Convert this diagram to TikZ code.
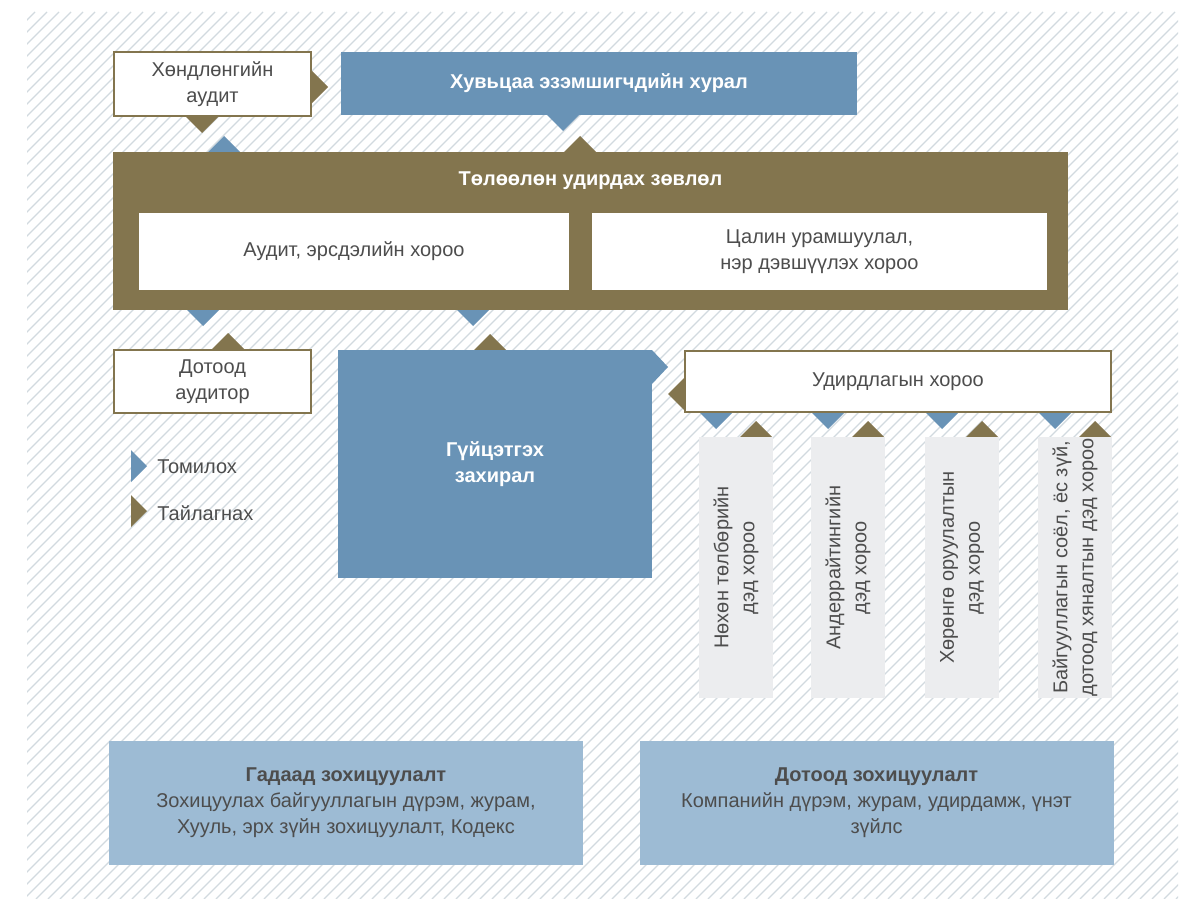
\documentclass[tikz,border=0pt]{standalone}
\usepackage{fontspec}
\setmainfont{Liberation Sans}
\usepackage{tikz}
\usepackage{xcolor}

\definecolor{bronze}{HTML}{83754E}
\definecolor{steel}{HTML}{6993B6}
\definecolor{paleblue}{HTML}{9DBBD4}
\definecolor{subgray}{HTML}{ECEDEF}
\definecolor{ink}{HTML}{4D4D4D}
\definecolor{hatch}{HTML}{D2DADF}

\begin{document}
\begin{tikzpicture}[x=0.5pt,y=-0.5pt,
	txt/.style={font=\fontsize{10}{13}\selectfont, text=ink, align=center, inner sep=0pt},
	framebox/.style={txt, draw=bronze, line width=1pt, fill=white},
	whitebox/.style={txt, fill=white},
	bluebox/.style={fill=steel, text=white, font=\bfseries\fontsize{10}{13}\selectfont, align=center, inner sep=0pt},
	subbox/.style={txt, fill=subgray, rotate=90, minimum width=130.5pt, minimum height=37pt},
	regbox/.style={txt, fill=paleblue, minimum width=237pt, minimum height=62pt}]

	\useasboundingbox (0,0) rectangle (1188,899);
	\fill[white] (0,0) rectangle (1188,899);

	% hatched paper
	\begin{scope}
		\clip (27,12) rectangle (1178,899);
		\foreach \i in {-75,...,99}
			\draw[hatch, line width=0.6pt] (\i*12,899) -- ++(887,-887);
	\end{scope}

	% appoint (blue) markers
	\fill[steel] (208,152) -- (240,152) -- (224,136) -- cycle;
	\fill[steel] (547,115) -- (579,115) -- (563,131) -- cycle;
	\fill[steel] (187,310) -- (219,310) -- (203,326) -- cycle;
	\fill[steel] (457,310) -- (489,310) -- (473,326) -- cycle;
	\fill[steel] (652,350) -- (668,367) -- (652,384) -- cycle;
	\foreach \cx in {716,828,942,1055}
		\fill[steel] (\cx-16,413) -- (\cx+16,413) -- (\cx,429) -- cycle;

	% report (bronze) markers
	\fill[bronze] (312,71) -- (328,87) -- (312,103) -- cycle;
	\fill[bronze] (186,117) -- (218,117) -- (202,133) -- cycle;
	\fill[bronze] (564,152) -- (596,152) -- (580,136) -- cycle;
	\fill[bronze] (212,349) -- (244,349) -- (228,333) -- cycle;
	\fill[bronze] (474,350) -- (506,350) -- (490,334) -- cycle;
	\fill[bronze] (684,378) -- (668,394) -- (684,410) -- cycle;
	\foreach \cx in {756,868,982,1095}
		\fill[bronze] (\cx-16,437) -- (\cx+16,437) -- (\cx,421) -- cycle;

	% top row
	\node[framebox, minimum width=98.5pt, minimum height=32pt] (extaudit) at (212.5,84) {Хөндлөнгийн\\аудит};
	\node[bluebox, minimum width=258pt, minimum height=31.5pt] (meeting) at (599,83.5) {Хувьцаа эзэмшигчдийн хурал};

	% board
	\node[fill=bronze, minimum width=477.5pt, minimum height=79pt, inner sep=0pt] (board) at (590.5,231) {};
	\node[txt, text=white, font=\bfseries\fontsize{10}{13}\selectfont] (boardtitle) at (590.5,181) {Төлөөлөн удирдах зөвлөл};
	\node[whitebox, minimum width=215pt, minimum height=38.5pt] (auditcom) at (354,251.5) {Аудит, эрсдэлийн хороо};
	\node[whitebox, minimum width=227.5pt, minimum height=38.5pt] (paycom) at (819.5,251.5) {Цалин урамшуулал,\\нэр дэвшүүлэх хороо};

	% middle row
	\node[framebox, minimum width=98.5pt, minimum height=31.5pt] (intaudit) at (212.5,381.5) {Дотоод\\аудитор};
	\node[bluebox, minimum width=157pt, minimum height=114pt] (ceo) at (495,464) {Гүйцэтгэх\\захирал};
	\node[framebox, minimum width=213pt, minimum height=30.5pt] (mgmt) at (898,381.5) {Удирдлагын хороо};

	% sub committees
	\node[subbox] (sub1) at (736,567.5) {Нөхөн төлбөрийн\\дэд хороо};
	\node[subbox] (sub2) at (848,567.5) {Андеррайтингийн\\дэд хороо};
	\node[subbox] (sub3) at (962,567.5) {Хөрөнгө оруулалтын\\дэд хороо};
	\node[subbox] (sub4) at (1075,567.5) {Байгууллагын соёл, ёс зүй,\\дотоод хяналтын дэд хороо};

	% legend
	\fill[steel] (131,450) -- (147,466) -- (131,482) -- cycle;
	\node[txt, anchor=west] (appoint) at (157,467) {Томилох};
	\fill[bronze] (131,495) -- (147,511) -- (131,527) -- cycle;
	\node[txt, anchor=west] (report) at (157,513) {Тайлагнах};

	% regulation
	\node[regbox] (extreg) at (346,803) {\textbf{Гадаад зохицуулалт}\\Зохицуулах байгууллагын дүрэм, журам,\\Хууль, эрх зүйн зохицуулалт, Кодекс};
	\node[regbox] (intreg) at (876.5,803) {\textbf{Дотоод зохицуулалт}\\Компанийн дүрэм, журам, удирдамж, үнэт\\зүйлс};
\end{tikzpicture}
\end{document}
